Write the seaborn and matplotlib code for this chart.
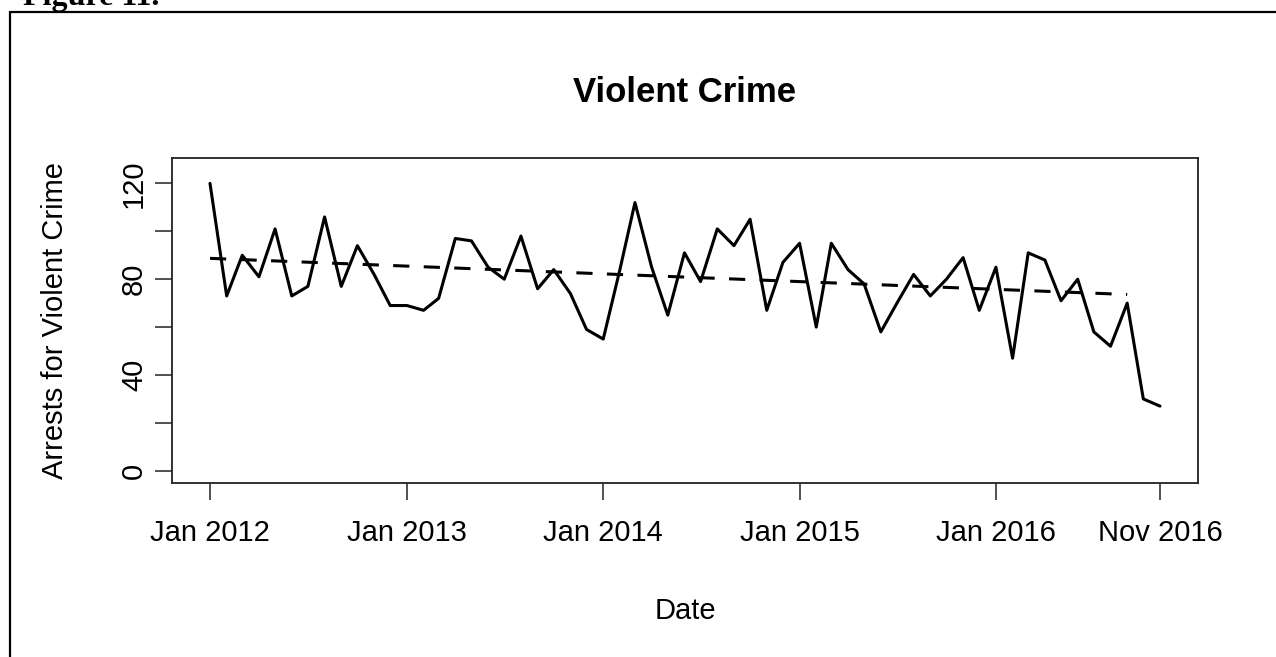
"""Violent crime arrests per month, Jan 2012 - Nov 2016, with linear trend."""
import matplotlib

matplotlib.use("Agg")
import matplotlib.pyplot as plt
import matplotlib.dates as mdates
from matplotlib.lines import Line2D
import numpy as np
import pandas as pd
import seaborn as sns

# monthly arrests for violent crime
arrests = [
    120, 73, 90, 81, 101, 73, 77, 106, 77, 94, 82, 69,    # 2012
    69, 67, 72, 97, 96, 85, 80, 98, 76, 84, 74, 59,      # 2013
    55, 84, 112, 85, 65, 91, 79, 101, 94, 105, 67, 87,   # 2014
    95, 60, 95, 84, 78, 58, 70, 82, 73, 80, 89, 67,      # 2015
    85, 47, 91, 88, 71, 80, 58, 52, 70, 30, 27,          # 2016 (to Nov)
]
months = pd.date_range("2012-01-01", periods=len(arrests), freq="MS")

# dashed trend line end points
trend_dates = pd.to_datetime(["2012-01-01", "2016-09-01"])
trend_vals = [88.7, 73.6]

tick_dates = pd.to_datetime(["2012-01-01", "2013-01-01", "2014-01-01",
                             "2015-01-01", "2016-01-01", "2016-11-01"])
tick_labels = ["Jan 2012", "Jan 2013", "Jan 2014", "Jan 2015", "Jan 2016", "Nov 2016"]
y_ticks = [0, 20, 40, 60, 80, 100, 120]
y_labels = ["0", "", "40", "", "80", "", "120"]

sns.set_theme(style="ticks")
plt.rcParams["font.family"] = ["Liberation Sans", "DejaVu Sans"]
plt.rcParams["text.color"] = "black"
plt.rcParams["axes.labelcolor"] = "black"
plt.rcParams["axes.titlecolor"] = "black"

W, H = 1276, 657
fig = plt.figure(figsize=(W / 100, H / 100), dpi=100)
ax = fig.add_axes([172 / W, 1 - 483 / H, 1026 / W, 325 / H])

df = pd.DataFrame({"Date": months, "Arrests": arrests})
sns.lineplot(data=df, x="Date", y="Arrests", ax=ax, color="black", lw=2.2)
trend = pd.DataFrame({"Date": trend_dates, "Arrests": trend_vals})
sns.lineplot(data=trend, x="Date", y="Arrests", ax=ax, color="black", lw=2.2)
ax.lines[-1].set_dashes((5.3, 4.7))

# R style 4% padding on x
x0, x1 = mdates.date2num(months[0]), mdates.date2num(months[-1])
pad = 0.04 * (x1 - x0)
ax.set_xlim(x0 - pad, x1 + pad)
ax.set_ylim(-5.1, 130.6)

ax.set_xticks(tick_dates)
ax.set_xticklabels(tick_labels)
ax.set_yticks(y_ticks)
ax.set_yticklabels(y_labels)
ax.tick_params(axis="both", direction="out", length=12.2, width=1.1,
               color="#222222", labelsize=21, labelcolor="black")
ax.tick_params(axis="x", pad=14)
ax.tick_params(axis="y", pad=5, labelrotation=90)
for lab in ax.get_yticklabels():
    lab.set_va("center")

for sp in ax.spines.values():
    sp.set_visible(True)
    sp.set_color("#222222")
    sp.set_linewidth(1.3)

ax.set_title("Violent Crime", fontsize=25, fontweight="bold", y=1.203, pad=0,
             va="center", color="black")
ax.set_xlabel("Date", fontsize=21, color="black")
ax.xaxis.set_label_coords(0.5, -(611 - 483) / 325)
ax.xaxis.label.set_va("center")
ax.set_ylabel("Arrests for Violent Crime", fontsize=21, color="black")
ax.yaxis.set_label_coords((55 - 172) / 1026, 0.5)
ax.yaxis.label.set_va("center")

# document frame and caption cut off at the top (as in the source page)
fig.add_artist(Line2D([10 / W, 1], [1 - 12 / H, 1 - 12 / H], transform=fig.transFigure,
                      color="black", lw=1.6))
fig.add_artist(Line2D([10 / W, 10 / W], [0, 1 - 12 / H], transform=fig.transFigure,
                      color="black", lw=1.6))
fig.text(23 / W, 1 - 5 / H, "Figure 11.", fontsize=23, fontweight="bold",
         family=["Liberation Serif", "DejaVu Serif"], va="baseline", ha="left")

fig.savefig("out.png", dpi=100)
